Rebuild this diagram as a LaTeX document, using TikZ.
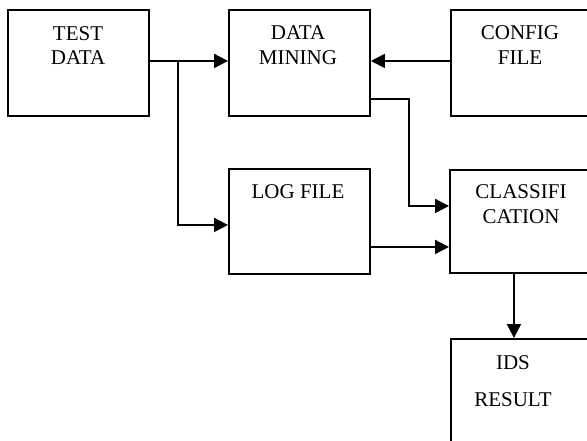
\documentclass[tikz,border=0pt]{standalone}
\usepackage{fontspec}
\setmainfont{Liberation Serif}
\usetikzlibrary{arrows.meta}
\begin{document}
\begin{tikzpicture}[x=1pt,y=-1pt,
  box/.style={draw,line width=1.9pt,inner sep=0pt,anchor=north west},
  lbl/.style={anchor=base,inner sep=0pt,font=\fontsize{21}{24}\selectfont},
  link/.style={line width=1.9pt},
  arr/.style={link,-{Triangle[length=14pt,width=14pt]}}]
\useasboundingbox (0,0) rectangle (587,441);
\clip (0,0) rectangle (587,441);
\fill[white] (0,0) rectangle (587,441);

% boxes
\node[box,minimum width=141pt,minimum height=106pt] (test)   at (7,9)    {};
\node[box,minimum width=141pt,minimum height=106pt] (mining) at (228,9)  {};
\node[box,minimum width=141pt,minimum height=106pt] (config) at (450,9)  {};
\node[box,minimum width=141pt,minimum height=105pt] (log)    at (228,168){};
\node[box,minimum width=141pt,minimum height=103pt] (class)  at (449,169){};
\node[box,minimum width=141pt,minimum height=106pt] (ids)    at (450,338){};

% labels
\node[lbl] (test1)   at (78,40.5)  {TEST};
\node[lbl] (test2)   at (78,65)    {DATA};
\node[lbl] (mining1) at (298,40)   {DATA};
\node[lbl] (mining2) at (298,64.5) {MINING};
\node[lbl] (config1) at (520,40)   {CONFIG};
\node[lbl] (config2) at (520,64.5) {FILE};
\node[lbl] (log1)    at (298,199)  {LOG FILE};
\node[lbl] (class1)  at (521,199)  {CLASSIFI};
\node[lbl] (class2)  at (521,224)  {CATION};
\node[lbl] (ids1)    at (513,369)  {IDS};
\node[lbl] (ids2)    at (513,406)  {RESULT};

% connectors
\coordinate (split) at (178,60);
\coordinate (bend) at (409,150);
\draw[arr] ([yshift=2pt]test.east) -- ([yshift=2pt]mining.west);
\draw[arr] (split) |- ([yshift=-3.5pt]log.west);
\draw[arr] ([yshift=2pt]config.west) -- ([yshift=2pt]mining.east);
\draw[arr] ([yshift=-36pt]mining.east) -| (bend) |- ([yshift=15.5pt]class.west);
\draw[arr] ([yshift=-25.5pt]log.east) -- ([yshift=-25.5pt]class.west);
\draw[arr] ([xshift=-6.5pt]class.south) -- ([xshift=-7.5pt]ids.north);
\end{tikzpicture}
\end{document}
